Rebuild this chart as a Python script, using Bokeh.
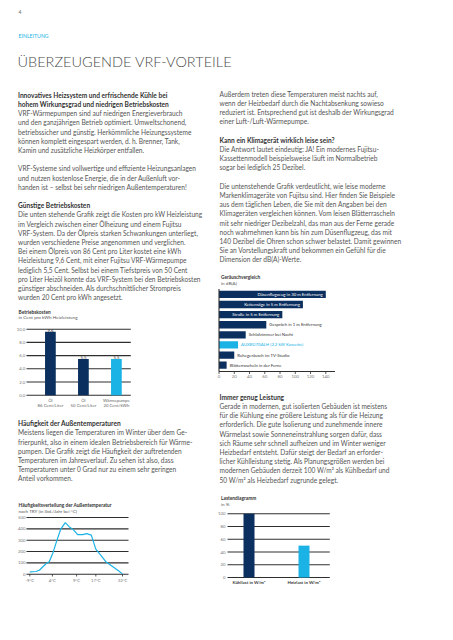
from bokeh.plotting import figure
from bokeh.models import Range1d
from bokeh.core.properties import value
from bokeh.embed import file_html
from bokeh.resources import INLINE

# ---------------- data ----------------
cost_categories_l1 = ["Öl", "Öl", "Wärmepumpe"]
cost_categories_l2 = ["86 Cent/Liter", "50 Cent/Liter", "20 Cent/kWh"]
cost_values = [9.6, 5.5, 5.5]
cost_labels = ["9,6", "5,5", "5,5"]
cost_ticks = [0, 2, 4, 6, 8, 10]
cost_tick_labels = ["0,0", "2,0", "4,0", "6,0", "8,0", "10,0"]

noise_labels = ["Düsenflugzeug in 30 m Entfernung", "Kettensäge in 5 m Entfernung",
                "Straße in 5 m Entfernung", "Gespräch in 1 m Entfernung",
                "Schlafzimmer bei Nacht", "AUXB07GALH (2,2 kW Kassette)",
                "Ruhegeräusch im TV-Studio", "Blätterrascheln in der Ferne"]
noise_values = [140, 110, 83, 62, 35, 25, 20, 10]
noise_highlight = [False, False, False, False, False, True, False, False]
noise_ticks = [0, 20, 40, 60, 80, 100, 120, 140]

temp_x = [-9, -6.3, -4.8, -3.1, -1.6, -0.4, 1.3, 2.8, 4.7, 6.7, 8.4, 10.2, 12.2,
          14.3, 16.2, 18.2, 20.2, 22, 24.6, 27.6, 30.2, 32]
temp_hours = [21, 24, 35, 68, 97, 110, 192, 287, 398, 455, 419, 393, 349,
              349, 358, 345, 221, 177, 110, 68, 30, 3]
temp_tick_pos = [-9, 1, 11.7, 20.2, 32]
temp_tick_labels = ["-9°C", "4°C", "9°C", "17°C", "32°C"]
temp_y_ticks = [0, 100, 200, 300, 400, 500]

load_categories = ["Kühllast in W/m²", "Heizlast in W/m²"]
load_values = [100, 50]
load_ticks = [0, 20, 40, 60, 80, 100]

block_a = [
    ("B", "Innovatives Heizsystem und erfrischende Kühle bei"),
    ("B", "hohem Wirkungsgrad und niedrigen Betriebskosten"),
    ("N", "VRF-Wärmepumpen sind auf niedrigen Energieverbrauch"),
    ("N", "und den ganzjährigen Betrieb optimiert. Umweltschonend,"),
    ("N", "betriebssicher und günstig. Herkömmliche Heizungssysteme"),
    ("N", "können komplett eingespart werden, d. h. Brenner, Tank,"),
    ("N", "Kamin und zusätzliche Heizkörper entfallen."),
    ("N", ""),
    ("N", "VRF-Systeme sind vollwertige und effiziente Heizungsanlagen"),
    ("N", "und nutzen kostenlose Energie, die in der Außenluft vor-"),
    ("N", "handen ist – selbst bei sehr niedrigen Außentemperaturen!"),
    ("N", ""),
    ("B", "Günstige Betriebskosten"),
    ("N", "Die unten stehende Grafik zeigt die Kosten pro kW Heizleistung"),
    ("N", "im Vergleich zwischen einer Ölheizung und einem Fujitsu"),
    ("N", "VRF-System. Da der Ölpreis starken Schwankungen unterliegt,"),
    ("N", "wurden verschiedene Preise angenommen und verglichen."),
    ("N", "Bei einem Ölpreis von 86 Cent pro Liter kostet eine kWh"),
    ("N", "Heizleistung 9,6 Cent, mit einer Fujitsu VRF-Wärmepumpe"),
    ("N", "lediglich 5,5 Cent. Selbst bei einem Tiefstpreis von 50 Cent"),
    ("N", "pro Liter Heizöl konnte das VRF-System bei den Betriebskosten"),
    ("N", "günstiger abschneiden. Als durchschnittlicher Strompreis"),
    ("N", "wurden 20 Cent pro kWh angesetzt."),
]
block_b = [
    ("B", "Häufigkeit der Außentemperaturen"),
    ("N", "Meistens liegen die Temperaturen im Winter über dem Ge-"),
    ("N", "frierpunkt, also in einem idealen Betriebsbereich für Wärme-"),
    ("N", "pumpen. Die Grafik zeigt die Häufigkeit der auftretenden"),
    ("N", "Temperaturen im Jahresverlauf. Zu sehen ist also, dass"),
    ("N", "Temperaturen unter 0 Grad nur zu einem sehr geringen"),
    ("N", "Anteil vorkommen."),
]
block_c = [
    ("N", "Außerdem treten diese Temperaturen meist nachts auf,"),
    ("N", "wenn der Heizbedarf durch die Nachtabsenkung sowieso"),
    ("N", "reduziert ist. Entsprechend gut ist deshalb der Wirkungsgrad"),
    ("N", "einer Luft-/Luft-Wärmepumpe."),
    ("N", ""),
    ("B", "Kann ein Klimagerät wirklich leise sein?"),
    ("N", "Die Antwort lautet eindeutig: JA! Ein modernes Fujitsu-"),
    ("N", "Kassettenmodell beispielsweise läuft im Normalbetrieb"),
    ("N", "sogar bei lediglich 25 Dezibel."),
    ("N", ""),
    ("N", "Die untenstehende Grafik verdeutlicht, wie leise moderne"),
    ("N", "Markenklimageräte von Fujitsu sind. Hier finden Sie Beispiele"),
    ("N", "aus dem täglichen Leben, die Sie mit den Angaben bei den"),
    ("N", "Klimageräten vergleichen können. Vom leisen Blätterrascheln"),
    ("N", "mit sehr niedriger Dezibelzahl, das man aus der Ferne gerade"),
    ("N", "noch wahrnehmen kann bis hin zum Düsenflugzeug, das mit"),
    ("N", "140 Dezibel die Ohren schon schwer belastet. Damit gewinnen"),
    ("N", "Sie an Vorstellungskraft und bekommen ein Gefühl für die"),
    ("N", "Dimension der dB(A)-Werte."),
]
block_d = [
    ("B", "Immer genug Leistung"),
    ("N", "Gerade in modernen, gut isolierten Gebäuden ist meistens"),
    ("N", "für die Kühlung eine größere Leistung als für die Heizung"),
    ("N", "erforderlich. Die gute Isolierung und zunehmende innere"),
    ("N", "Wärmelast sowie Sonneneinstrahlung sorgen dafür, dass"),
    ("N", "sich Räume sehr schnell aufheizen und im Winter weniger"),
    ("N", "Heizbedarf entsteht. Dafür steigt der Bedarf an erforder-"),
    ("N", "licher Kühlleistung stetig. Als Planungsgrößen werden bei"),
    ("N", "modernen Gebäuden derzeit 100 W/m² als Kühlbedarf und"),
    ("N", "50 W/m² als Heizbedarf zugrunde gelegt."),
]

# ---------------- styles ----------------
FONT = value("Lato")
NAVY = "#0b2f5f"
CYAN = "#1bb3e6"
TXT = "#555555"
GRID = "#2e2e2e"
BODY_SIZE = "6.6px"
LINE_H = 9.2

W, H = 437, 624
OX, OY = 8, 8

p = figure(width=W, height=H, x_range=Range1d(OX, OX + W), y_range=Range1d(OY + H, OY),
           output_backend="svg", toolbar_location=None, min_border=0,
           x_axis_type=None, y_axis_type=None)
p.grid.visible = False
p.outline_line_color = None
p.background_fill_color = "white"
p.border_fill_color = "white"


def xr(name, p0, d0, p1, d1):
    s = (d1 - d0) / (p1 - p0)
    p.extra_x_ranges[name] = Range1d(d0 + (OX - p0) * s, d0 + (OX + W - p0) * s)


def yr(name, p0, d0, p1, d1):
    s = (d1 - d0) / (p1 - p0)
    p.extra_y_ranges[name] = Range1d(d0 + (OY + H - p0) * s, d0 + (OY - p0) * s)


def txt(x, y, t, size, color=TXT, bold=False, align="left", baseline="middle", font=FONT, **kw):
    p.text(x=x, y=y, text=t, text_font=font, text_font_size=size, text_color=color,
           text_font_style="bold" if bold else "normal", text_align=align,
           text_baseline=baseline, **kw)


def block(lines, x, y0):
    for style in ("N", "B"):
        xs, ys, ts = [], [], []
        for i, (st, t) in enumerate(lines):
            if st == style and t:
                xs.append(x)
                ys.append(y0 + i * LINE_H)
                ts.append(t)
        if ts:
            txt(xs, ys, ts, BODY_SIZE, color=("#333333" if style == "B" else TXT),
                bold=(style == "B"))


# ---------------- header ----------------
txt([26], [19], ["4"], "5px", color="#666666")
txt([26], [43.3], ["EINLEITUNG"], "5.2px", color=CYAN)
txt([25], [68.5], ["ÜBERZEUGENDE VRF-VORTEILE"], "14.5px", color="#4a4a4a",
    font=value("Lato Light"))

block(block_a, 25.5, 102.3)
block(block_b, 25.5, 430.7)
block(block_c, 227, 101.3)
block(block_d, 227, 404.3)

# ---------------- chart 1: Betriebskosten ----------------
xr("c1x", 57.9, 0, 123.9, 2)
yr("c1y", 402.7, 0, 336.7, 10)
txt([26], [319.3], ["Betriebskosten"], "4.8px", color="#333333", bold=True)
txt([26], [324.8], ["in Cent pro kWh Heizleistung"], "4.6px", color="#555555")
p.segment(x0=[34] * len(cost_ticks), x1=[138.3] * len(cost_ticks), y0=cost_ticks, y1=cost_ticks,
          line_color=GRID, line_width=1.1, y_range_name="c1y")
txt([32.8] * len(cost_ticks), cost_ticks, cost_tick_labels, "4.3px", color="#777777",
    align="right", y_range_name="c1y")
p.vbar(x=[0, 1, 2], top=cost_values, bottom=0, width=0.325,
       fill_color=[NAVY, NAVY, CYAN], line_color=None, x_range_name="c1x", y_range_name="c1y")
txt([0, 1, 2], cost_values, cost_labels, "4.3px", color="#444444", align="center",
    baseline="bottom", x_range_name="c1x", y_range_name="c1y")
txt([0, 1, 2], [407.8] * 3, cost_categories_l1, "4.3px", color="#666666", align="center",
    x_range_name="c1x")
txt([0, 1, 2], [412.8] * 3, cost_categories_l2, "4.3px", color="#666666", align="center",
    x_range_name="c1x")

# ---------------- chart 2: Geräuschvergleich ----------------
xr("c2x", 226.5, 0, 333.3, 140)
yr("c2y", 301.9, 0, 372.7, 7)
txt([228.5], [284.2], ["Geräuschvergleich"], "4.8px", color="#333333", bold=True)
txt([228.5], [290.3], ["in dB(A)"], "4.6px", color="#555555")
rows = list(range(len(noise_values)))
p.hbar(y=rows, right=noise_values, left=0, height=0.72,
       fill_color=[CYAN if h else NAVY for h in noise_highlight], line_color=None,
       x_range_name="c2x", y_range_name="c2y")
ins = [i for i in rows if noise_values[i] >= 80]
outs = [i for i in rows if noise_values[i] < 80]
txt([noise_values[i] for i in ins], ins, [noise_labels[i] for i in ins], "4.3px",
    color="white", align="right", x_offset=-3, x_range_name="c2x", y_range_name="c2y")
txt([noise_values[i] for i in outs], outs, [noise_labels[i] for i in outs], "4.3px",
    color=[CYAN if noise_highlight[i] else "#333333" for i in outs], align="left", x_offset=3,
    x_range_name="c2x", y_range_name="c2y")
p.segment(x0=[0], x1=[152], y0=[379], y1=[379], line_color=GRID, line_width=1.1,
          x_range_name="c2x")
p.segment(x0=[0], x1=[0], y0=[296.5], y1=[379], line_color=GRID, line_width=1.1,
          x_range_name="c2x")
p.segment(x0=noise_ticks, x1=noise_ticks, y0=[379] * 8, y1=[381.5] * 8, line_color=GRID,
          line_width=0.8, x_range_name="c2x")
txt(noise_ticks, [384.4] * 8, [str(t) for t in noise_ticks], "4.3px", color="#777777",
    align="center", x_range_name="c2x")

# ---------------- chart 3: Häufigkeitsverteilung ----------------
xr("c3x", 37.3, -9, 130, 32)
yr("c3y", 581.7, 0, 525, 500)
txt([26], [512], ["Häufigkeitsverteilung der Außentemperatur"], "4.8px", color="#333333",
    bold=True)
txt([26], [518.2], ["nach TRY (in Std./Jahr bei °C)"], "4.6px", color="#555555")
p.segment(x0=[34] * 6, x1=[136] * 6, y0=temp_y_ticks, y1=temp_y_ticks, line_color=GRID,
          line_width=1.1, y_range_name="c3y")
txt([33] * 6, temp_y_ticks, [str(t) for t in temp_y_ticks], "4.3px", color="#777777",
    align="right", y_range_name="c3y")
p.segment(x0=temp_tick_pos, x1=temp_tick_pos, y0=[581.7] * 5, y1=[584] * 5, line_color=GRID,
          line_width=0.8, x_range_name="c3x")
txt(temp_tick_pos, [587.5] * 5, temp_tick_labels, "4.3px", color="#777777", align="center",
    x_range_name="c3x")
p.line(x=temp_x, y=temp_hours, line_color=CYAN, line_width=1.2, x_range_name="c3x",
       y_range_name="c3y")

# ---------------- chart 4: Lastendiagramm ----------------
xr("c4x", 256.5, 0, 311.5, 1)
yr("c4y", 585, 0, 521.3, 100)
txt([228.5], [505.5], ["Lastendiagramm"], "4.8px", color="#333333", bold=True)
txt([228.5], [511.2], ["in %"], "4.6px", color="#555555")
p.segment(x0=[235] * 6, x1=[337.3] * 6, y0=load_ticks, y1=load_ticks, line_color=GRID,
          line_width=1.1, y_range_name="c4y")
txt([233] * 6, load_ticks, [str(t) for t in load_ticks], "4.3px", color="#777777",
    align="right", y_range_name="c4y")
p.vbar(x=[0, 1], top=load_values, bottom=0, width=0.2, fill_color=[NAVY, CYAN],
       line_color=None, x_range_name="c4x", y_range_name="c4y")
txt([0, 1], [589.5] * 2, load_categories, "4.4px", color="#333333", bold=True, align="center",
    x_range_name="c4x")

open("out.html", "w").write(file_html(p, INLINE))
